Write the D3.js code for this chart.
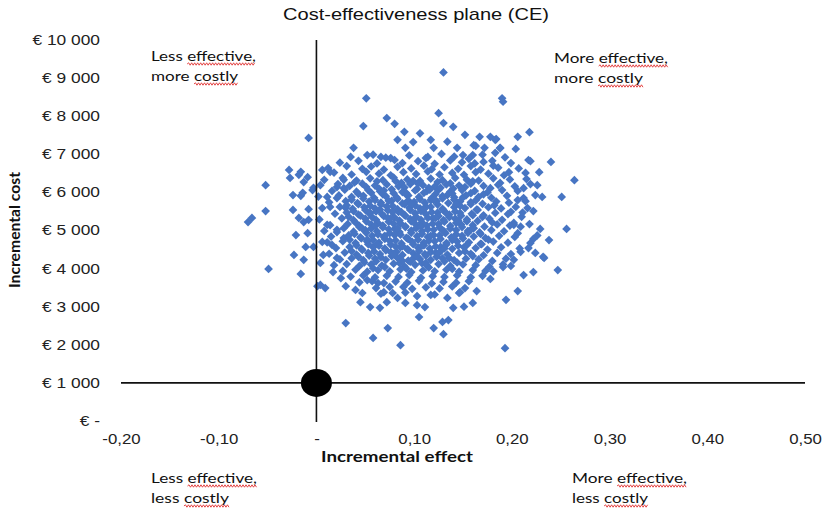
<!DOCTYPE html>
<html><head><meta charset="utf-8">
<script src="https://cdn.jsdelivr.net/npm/d3@7"></script>
<style>body{margin:0;background:#fff;} svg{display:block;}</style>
</head><body><svg id="chart" width="822" height="510"></svg>
<script>
// Incremental effect / incremental cost pairs (bootstrap replicates)
const outerPoints = [
[0.130,9150],[0.190,8470],[0.191,8380],[0.051,8470],[-0.008,7430],[0.072,7950],[0.080,7800],[0.048,7740],[0.090,7590],
[0.125,8080],[0.130,7820],[0.140,7720],[0.152,7510],[0.167,7460],[0.178,7460],[0.184,7400],[0.206,7460],[0.218,7580],
[0.204,7140],[0.219,6820],[0.240,6800],[0.228,6530],[0.264,6320],[0.215,6350],[0.226,6190],[0.251,5880],[0.206,6040],
[0.212,6110],[0.224,5930],[0.222,5510],[0.256,5040],[0.229,5040],[0.238,4750],[0.233,4280],[0.210,5360],[0.202,5200],
[0.106,7550],[0.134,7330],[0.161,7240],[0.188,7160],[0.181,6700],[0.197,6530],[0.188,6250],[0.206,5800],
[0.216,5590],[0.199,5490],[0.209,5100],[0.222,4780],[0.217,4540],[0.232,4310],[0.206,4930],
[0.212,5850],[0.202,5150],[0.219,4670],[0.209,4440],[0.224,4410],[0.202,4230],
[0.247,3960],[0.222,3910],[0.212,3830],[0.199,4070],[0.206,3410],[0.194,3180],[0.193,1910],[0.105,2730],[0.120,2440],
[0.130,2280],[0.129,2600],[0.135,2650],[0.140,2970],[0.151,3000],[0.160,3100],[0.111,2990],[0.103,3040],[0.117,3310],
[0.103,3280],[0.134,3230],[0.147,3380],[0.164,3410],[0.178,3730],[0.191,4040],[0.181,3930],
[-0.049,3990],[-0.016,3860],[0.001,3540],[0.009,3490],[0.030,2570],[0.058,2180],[0.073,2440],[0.086,1990],[0.030,3540],
[0.047,3360],[0.045,3120],[0.055,2990],[0.065,2970],[0.072,3120],[0.083,3230],[0.091,3100],[0.017,3910],[0.025,3750],
[0.040,3440],[0.052,3700],[0.063,3620],[0.069,3380],[0.078,3360],[0.089,3520],
[-0.052,6190],[-0.066,5330],[-0.070,5220],[-0.052,5510],[-0.027,6380],[-0.016,6540],[-0.009,6400],[-0.016,5910],
[-0.003,6120],[-0.024,5540],[-0.008,5560],[-0.018,5330],[-0.008,5280],[-0.021,4880],[-0.011,4570],[-0.023,4360],[-0.013,4230],
[0.006,6590],[0.014,6540],[0.028,6330],[0.021,6140],[0.011,5880],[0.021,5850],[0.014,5620],[0.030,5590],[0.011,5150],
[0.021,4960],[0.006,4700],[0.016,4620],[0.028,4800],[0.007,4360],[0.021,4280],[0.004,4150],
[-0.028,6590],[-0.018,6460],[-0.013,6270],[-0.024,5930],[-0.014,5990],[-0.004,6060],[-0.013,5220],[-0.009,4930],[-0.003,4570],
[0.004,3570],
[0.083,7380],[0.099,7320],[0.117,7380],[0.091,7170],[0.120,7170],[0.144,7170],[0.150,6980],[0.038,7170],[0.052,6980],
[0.066,6930],[0.076,6900],[0.114,6930],
[0.183,7380],[0.163,7220],[0.172,7170],[0.188,7170],[0.183,7040],[0.160,6980],[0.217,6850],[0.171,6800]
];
const corePoints = [
[0.035,6930],[0.058,6990],[0.071,6910],[0.095,6970],[0.112,6900],[0.128,7010],[0.141,6940],[0.156,6880],[0.170,6990],[0.193,6920],
[0.024,6780],[0.043,6830],[0.062,6760],[0.080,6850],[0.088,6770],[0.104,6820],[0.121,6750],[0.137,6840],[0.149,6790],[0.162,6760],[0.180,6830],[0.199,6770],
[0.012,6640],[0.031,6690],[0.047,6620],[0.056,6680],[0.069,6600],[0.083,6670],[0.097,6630],[0.110,6700],[0.118,6610],[0.131,6660],[0.145,6620],[0.158,6690],[0.168,6600],[0.186,6650],[0.207,6630],
[0.018,6520],[0.036,6470],[0.051,6540],[0.064,6490],[0.076,6450],[0.089,6530],[0.102,6480],[0.114,6550],[0.126,6470],[0.139,6510],[0.151,6460],[0.163,6530],[0.176,6490],[0.192,6450],[0.214,6510],
[0.008,6330],[0.027,6380],[0.041,6310],[0.055,6370],[0.068,6320],[0.079,6390],[0.093,6340],[0.106,6300],[0.117,6360],[0.129,6320],[0.142,6380],[0.154,6330],[0.166,6310],[0.181,6370],[0.198,6340],
[0.039,6260],[0.062,6290],[0.087,6250],[0.099,6300],[0.124,6270],[0.137,6240],[0.160,6290],
[0.004,6190],[0.022,6220],[0.034,6170],[0.047,6230],[0.060,6180],[0.072,6210],[0.084,6160],[0.096,6220],[0.109,6190],[0.121,6150],[0.133,6210],[0.146,6180],[0.158,6230],[0.171,6170],[0.186,6200],[0.203,6160],[0.219,6220],
[0.028,6110],[0.051,6140],[0.064,6100],[0.090,6130],[0.103,6090],[0.115,6120],[0.140,6100],[0.152,6140],[0.178,6110],
[0.016,6040],[0.029,6070],[0.041,6020],[0.053,6060],[0.065,6030],[0.077,6080],[0.088,6010],[0.101,6050],[0.113,6030],[0.125,6070],[0.137,6020],[0.149,6060],[0.162,6040],[0.175,6000],[0.190,6060],
[0.043,5960],[0.056,5990],[0.068,5950],[0.079,5980],[0.092,5940],[0.110,5990],[0.122,5960],[0.134,5930],[0.158,5980],[0.171,5950],
[0.002,5890],[0.023,5920],[0.036,5880],[0.048,5910],[0.059,5860],[0.071,5900],[0.082,5870],[0.094,5920],[0.105,5880],[0.118,5850],[0.129,5900],[0.141,5870],[0.153,5920],[0.166,5880],[0.179,5860],[0.195,5910],[0.231,5880],
[0.036,5810],[0.048,5840],[0.060,5800],[0.083,5830],[0.094,5790],[0.106,5820],[0.117,5800],[0.129,5840],[0.141,5810],[0.163,5790],
[0.013,5740],[0.030,5770],[0.042,5720],[0.054,5760],[0.066,5730],[0.077,5780],[0.088,5710],[0.100,5750],[0.111,5730],[0.123,5770],[0.135,5720],[0.147,5760],[0.158,5740],[0.170,5700],[0.184,5760],[0.197,5730],[0.214,5770],
[0.031,5660],[0.043,5690],[0.055,5650],[0.066,5680],[0.078,5640],[0.090,5690],[0.101,5660],[0.112,5630],[0.124,5680],[0.147,5650],[0.158,5690],[0.182,5660],
[0.006,5590],[0.024,5620],[0.037,5570],[0.049,5610],[0.060,5580],[0.072,5630],[0.083,5560],[0.095,5600],[0.106,5580],[0.117,5620],[0.129,5570],[0.141,5610],[0.152,5590],[0.164,5550],[0.176,5610],[0.189,5580],[0.204,5620],
[0.038,5510],[0.050,5540],[0.061,5500],[0.073,5530],[0.084,5490],[0.096,5540],[0.107,5510],[0.118,5480],[0.130,5530],[0.142,5500],[0.165,5540],
[0.019,5440],[0.031,5470],[0.043,5420],[0.055,5460],[0.067,5430],[0.078,5480],[0.090,5410],[0.101,5450],[0.112,5430],[0.124,5470],[0.136,5420],[0.147,5460],[0.159,5440],[0.171,5400],[0.183,5460],[0.196,5430],[0.211,5470],
[0.033,5360],[0.045,5390],[0.057,5350],[0.069,5380],[0.080,5340],[0.091,5390],[0.102,5360],[0.114,5330],[0.125,5380],[0.136,5350],[0.148,5390],[0.170,5360],
[0.003,5290],[0.026,5320],[0.038,5270],[0.050,5310],[0.061,5280],[0.073,5330],[0.085,5260],[0.096,5300],[0.107,5280],[0.119,5320],[0.130,5270],[0.142,5310],[0.154,5290],[0.165,5250],[0.177,5310],[0.190,5280],
[0.040,5210],[0.051,5240],[0.063,5200],[0.074,5230],[0.086,5190],[0.097,5240],[0.108,5210],[0.119,5180],[0.131,5230],[0.143,5200],[0.154,5240],[0.180,5210],
[0.014,5140],[0.032,5170],[0.044,5120],[0.056,5160],[0.068,5130],[0.079,5180],[0.091,5110],[0.102,5150],[0.113,5130],[0.125,5170],[0.137,5120],[0.148,5160],[0.160,5140],[0.172,5100],[0.185,5160],[0.198,5130],[0.218,5170],
[0.028,5060],[0.044,5090],[0.056,5050],[0.068,5080],[0.080,5040],[0.091,5090],[0.102,5060],[0.114,5030],[0.126,5080],[0.137,5050],[0.149,5090],[0.161,5060],
[0.008,4990],[0.021,5020],[0.038,4970],[0.050,5010],[0.062,4980],[0.074,5030],[0.085,4960],[0.097,5000],[0.108,4980],[0.120,5020],[0.131,4970],[0.143,5010],[0.155,4990],[0.167,4950],[0.179,5010],[0.192,4980],
[0.039,4910],[0.051,4940],[0.063,4900],[0.075,4930],[0.086,4890],[0.097,4940],[0.108,4910],[0.120,4880],[0.132,4930],[0.143,4900],[0.155,4940],[0.168,4910],
[0.015,4840],[0.033,4870],[0.045,4820],[0.057,4860],[0.069,4830],[0.080,4880],[0.092,4810],[0.103,4850],[0.114,4830],[0.126,4870],[0.138,4820],[0.149,4860],[0.161,4840],[0.173,4800],[0.187,4860],[0.203,4830],[0.226,4870],
[0.034,4760],[0.046,4790],[0.058,4750],[0.070,4780],[0.081,4740],[0.093,4790],[0.104,4760],[0.115,4730],[0.127,4780],[0.139,4750],[0.150,4790],[0.176,4760],
[0.011,4690],[0.027,4720],[0.040,4670],[0.052,4710],[0.064,4680],[0.075,4730],[0.087,4660],[0.098,4700],[0.110,4680],[0.121,4720],[0.133,4670],[0.144,4710],[0.156,4690],[0.168,4650],[0.181,4710],[0.196,4680],
[0.041,4610],[0.053,4640],[0.064,4600],[0.076,4630],[0.088,4590],[0.099,4640],[0.110,4610],[0.122,4580],[0.133,4630],[0.145,4600],[0.169,4640],
[0.020,4540],[0.034,4570],[0.046,4520],[0.058,4560],[0.070,4530],[0.081,4580],[0.093,4510],[0.104,4550],[0.116,4530],[0.127,4570],[0.139,4520],[0.151,4560],[0.163,4540],[0.175,4500],[0.189,4560],[0.208,4530],
[0.036,4460],[0.047,4490],[0.059,4450],[0.071,4480],[0.082,4440],[0.094,4490],[0.105,4460],[0.117,4430],[0.128,4480],[0.152,4450],
[0.013,4390],[0.029,4420],[0.041,4370],[0.053,4410],[0.065,4380],[0.076,4430],[0.088,4360],[0.099,4400],[0.111,4380],[0.122,4420],[0.134,4370],[0.146,4410],[0.158,4390],[0.171,4350],[0.185,4410],[0.199,4380],
[0.043,4310],[0.054,4340],[0.066,4300],[0.077,4330],[0.100,4290],[0.112,4340],[0.123,4310],[0.136,4280],[0.160,4330],
[0.024,4240],[0.036,4270],[0.048,4220],[0.060,4260],[0.071,4230],[0.083,4280],[0.094,4210],[0.106,4250],[0.117,4230],[0.129,4270],[0.141,4220],[0.153,4260],[0.166,4240],[0.180,4200],[0.194,4260],
[0.049,4160],[0.061,4190],[0.085,4150],[0.096,4180],[0.108,4140],[0.131,4190],[0.144,4160],
[0.018,4090],[0.031,4120],[0.044,4070],[0.056,4110],[0.067,4080],[0.079,4130],[0.090,4060],[0.101,4100],[0.113,4080],[0.125,4120],[0.137,4070],[0.150,4110],[0.163,4090],[0.177,4050],[0.191,4110],
[0.058,4010],[0.070,4040],[0.092,4000],[0.115,4030],[0.139,3990],
[0.027,3940],[0.040,3970],[0.052,3920],[0.063,3960],[0.075,3930],[0.086,3980],[0.097,3910],[0.109,3950],[0.121,3930],[0.133,3970],[0.146,3920],[0.160,3960],[0.173,3940],
[0.035,3790],[0.048,3820],[0.060,3770],[0.072,3810],[0.084,3780],[0.095,3830],[0.107,3760],[0.119,3800],[0.131,3780],[0.144,3820],[0.158,3770],[0.170,3810],
[0.044,3640],[0.057,3670],[0.069,3620],[0.081,3660],[0.093,3630],[0.105,3680],[0.118,3610],[0.130,3650],[0.143,3630],[0.156,3670],
[0.061,3490],[0.075,3520],[0.098,3470],[0.112,3510],[0.126,3480],[0.139,3530],[0.152,3490],
[0.066,3340],[0.091,3370],[0.121,3320],[0.146,3360]
];
const centerPoints = [
[0.065,5550],[0.087,5480],[0.110,5560],[0.133,5450],[0.076,5320],[0.099,5250],[0.122,5330],[0.145,5260],[0.060,5120],
[0.083,5060],[0.107,5100],[0.129,5010],[0.070,4860],[0.094,4780],[0.117,4860],[0.140,4790],[0.062,4640],[0.086,4560],
[0.108,4600],[0.131,4530],[0.074,5780],[0.097,5700],[0.120,5800],[0.143,5690],[0.069,6050],[0.092,5980],[0.116,6070],
[0.139,5970],[0.081,6300],[0.104,6230],[0.127,6120],[0.150,5870],[0.054,5450],[0.047,5050],[0.052,4760],[0.160,5400],
[0.158,5020],[0.154,4620],[0.079,4390],[0.103,4320],[0.125,4400],[0.088,4200],[0.112,4150]
];
const originPoint = [0, 1000];
const xTicks = [-0.2, -0.1, 0, 0.1, 0.2, 0.3, 0.4, 0.5];
const xTickLabels = ["-0,20", "-0,10", "-", "0,10", "0,20", "0,30", "0,40", "0,50"];
const yTicks = [0, 1000, 2000, 3000, 4000, 5000, 6000, 7000, 8000, 9000, 10000];
const yTickLabels = ["€ -", "€ 1 000", "€ 2 000", "€ 3 000", "€ 4 000", "€ 5 000", "€ 6 000", "€ 7 000", "€ 8 000", "€ 9 000", "€ 10 000"];
const quadrantTexts = [
  ["Less effective,", "more costly"],
  ["More effective,", "more costly"],
  ["Less effective,", "less costly"],
  ["More effective,", "less costly"]
];
const underlinedWords = ["effective,", "costly"];
const titleText = "Cost-effectiveness plane (CE)";
const xTitle = "Incremental effect";
const yTitle = "Incremental cost";

const svg = d3.select("#chart");
const x = d3.scaleLinear().domain([-0.2, 0.5]).range([121, 805]);
const y = d3.scaleLinear().domain([0, 10000]).range([421, 40]);
const AX = "'Liberation Sans', Arial, sans-serif";
const LB = "Lato, 'Open Sans', sans-serif";

function fitTo(sel, target) {
  sel.each(function () {
    d3.select(this).attr("textLength", target).attr("lengthAdjust", "spacingAndGlyphs");
  });
}
function stretch(sel, f) {
  sel.each(function () {
    const w = this.getComputedTextLength();
    d3.select(this).attr("textLength", w * f).attr("lengthAdjust", "spacingAndGlyphs");
  });
}

// title
svg.append("text").attr("x", 416).attr("y", 20).attr("text-anchor", "middle")
  .attr("font-family", AX).attr("font-size", 17).attr("fill", "#111").text(titleText)
  .call(fitTo, 266);

// axes
const yAxis = svg.append("g").attr("transform", "translate(121,0)")
  .call(d3.axisLeft(y).tickValues(yTicks).tickFormat((d, i) => yTickLabels[i]).tickSize(0).tickPadding(21));
yAxis.select(".domain").remove();
yAxis.selectAll("text").attr("font-family", AX).attr("font-size", 14).attr("fill", "#222").call(stretch, 1.24);

const xAxis = svg.append("g").attr("transform", "translate(0,421)")
  .call(d3.axisBottom(x).tickValues(xTicks).tickFormat((d, i) => xTickLabels[i]).tickSize(0).tickPadding(13));
xAxis.select(".domain").remove();
xAxis.selectAll("text").attr("font-family", AX).attr("font-size", 14).attr("fill", "#222").call(stretch, 1.2);

// axis titles
svg.append("text").attr("x", 397).attr("y", 462).attr("text-anchor", "middle")
  .attr("font-family", LB).attr("font-weight", "bold").attr("font-size", 15).attr("fill", "#111")
  .text(xTitle).call(fitTo, 152);
svg.append("text").attr("transform", "translate(20,230) rotate(-90)").attr("text-anchor", "middle")
  .attr("font-family", LB).attr("font-weight", "bold").attr("font-size", 15).attr("fill", "#111")
  .text(yTitle).call(fitTo, 116);

// points
const diamond = d3.symbol().type(d3.symbolSquare).size(38);
const allPoints = outerPoints.concat(corePoints, centerPoints);
svg.append("g").selectAll("path").data(allPoints).join("path")
  .attr("d", diamond)
  .attr("transform", d => `translate(${x(d[0])},${y(d[1])}) rotate(45)`)
  .attr("fill", "#4775c3");

// reference lines
svg.append("line").attr("x1", x(0)).attr("x2", x(0)).attr("y1", y(10000)).attr("y2", y(0) + 1)
  .attr("stroke", "#111").attr("stroke-width", 1.6);
svg.append("line").attr("x1", x(-0.2)).attr("x2", x(0.5)).attr("y1", y(1000)).attr("y2", y(1000))
  .attr("stroke", "#111").attr("stroke-width", 1.6);
svg.append("ellipse").attr("cx", x(originPoint[0])).attr("cy", y(originPoint[1]))
  .attr("rx", 15.5).attr("ry", 14).attr("fill", "#000");

// quadrant labels
const qPos = [
  { x: 151, y: [61, 81], w: [105, 87] },
  { x: 554, y: [63, 83], w: [114, 89] },
  { x: 151, y: [483, 503], w: [106, 78] },
  { x: 572, y: [483, 503], w: [115, 76] }
];
function wavy(x0, x1, yb) {
  const p = d3.path();
  p.moveTo(x0, yb);
  let up = true;
  for (let xx = x0 + 1.5; xx <= x1; xx += 1.5) { p.lineTo(xx, up ? yb - 1.2 : yb + 1.2); up = !up; }
  return p.toString();
}
quadrantTexts.forEach((lines, qi) => {
  lines.forEach((line, li) => {
    const pos = qPos[qi];
    const t = svg.append("text").attr("x", pos.x).attr("y", pos.y[li])
      .attr("font-family", LB).attr("font-size", 14).attr("fill", "#111").text(line);
    const node = t.node();
    const nat = node.getComputedTextLength();
    const f = pos.w[li] / nat;
    const word = underlinedWords.find(wd => line.includes(wd));
    if (word) {
      const idx = line.indexOf(word);
      const start = idx > 0 ? node.getSubStringLength(0, idx) : 0;
      const len = node.getSubStringLength(idx, word.length);
      svg.append("path").attr("d", wavy(pos.x + start * f, pos.x + (start + len) * f, pos.y[li] + 3))
        .attr("fill", "none").attr("stroke", "#e03030").attr("stroke-width", 0.9);
    }
    t.call(fitTo, pos.w[li]);
  });
});
</script></body></html>
